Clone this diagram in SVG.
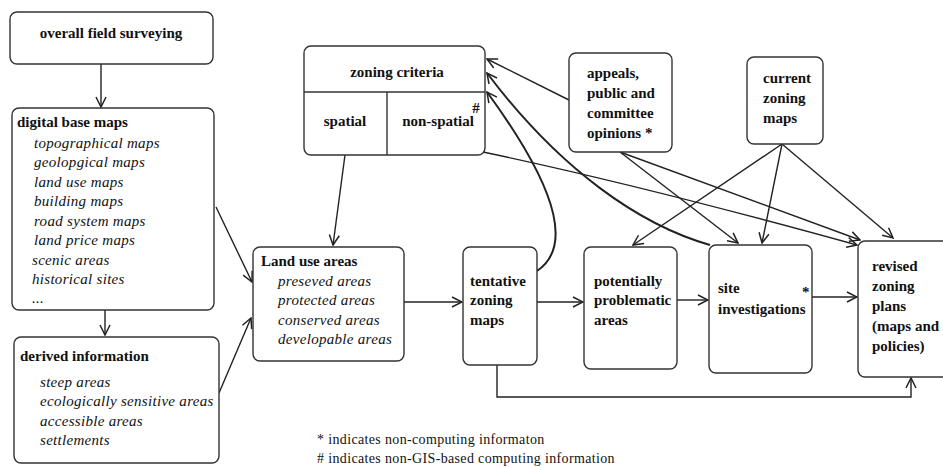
<svg xmlns="http://www.w3.org/2000/svg" width="943" height="468" viewBox="0 0 943 468">
  <defs>
    <marker id="arr" viewBox="0 0 12 12" refX="11" refY="6" markerWidth="12" markerHeight="12" markerUnits="userSpaceOnUse" orient="auto">
      <path d="M1,1 L11,6 L1,11" fill="none" stroke="#222" stroke-width="1.5"/>
    </marker>
    <style>
      .box { fill: #fff; stroke: #333; stroke-width: 1.4; }
      .div { stroke: #333; stroke-width: 1.4; }
      text { font-family: 'Liberation Serif', 'DejaVu Serif', serif; fill: #111; }
      .b { font-weight: bold; font-size: 15px; }
      .i { font-style: italic; font-size: 15px; letter-spacing: 0.3px; }
      .n { font-size: 14px; letter-spacing: 0.35px; }
      .c { fill: none; stroke: #222; stroke-width: 1.4; marker-end: url(#arr); }
      .h { fill: none; stroke: #222; stroke-width: 2; marker-end: url(#arr); }
    </style>
  </defs>
  <rect width="943" height="468" fill="#fff"/>

  <!-- connectors -->
  <g id="connectors">
    <path class="c" d="M101,64 L101,107"/>
    <path class="c" d="M105,310 L105,335"/>
    <path class="c" d="M216,207 L252,282"/>
    <path class="c" d="M219,393 L251,318"/>
    <path class="c" d="M345,155 L333,245"/>
    <path class="c" d="M404,302 L462,302"/>
    <path class="c" d="M537,302 L583,302"/>
    <path class="c" d="M677,300 L708,300"/>
    <path class="c" d="M812,297 L857,297"/>
    <path class="c" d="M497,365 L497,397 L911,397 L911,378"/>
    <path class="c" d="M569,100 L487,59"/>
    <path class="h" d="M710,245 C640,225 560,170 487,73"/>
    <path class="h" d="M537,271 C568,250 566,200 487,92"/>
    <path class="c" d="M483,152 Q640,185 857,245"/>
    <path class="c" d="M620,152 L738,243"/>
    <path class="c" d="M620,152 L860,240"/>
    <path class="c" d="M782,144 L633,245"/>
    <path class="c" d="M782,144 L762,243"/>
    <path class="c" d="M782,144 L893,238"/>
  </g>

  <g id="overall-field-surveying">
    <rect class="box" x="10" y="12" width="203" height="52" rx="7"/>
    <text class="b" x="111" y="38" text-anchor="middle">overall field surveying</text>
  </g>

  <g id="digital-base-maps">
    <rect class="box" x="12" y="108" width="202" height="202" rx="7"/>
    <text class="b" x="17" y="127">digital base maps</text>
    <text class="i" x="34" y="148">topographical maps</text>
    <text class="i" x="34" y="167">geolopgical maps</text>
    <text class="i" x="34" y="187">land use maps</text>
    <text class="i" x="34" y="206">building maps</text>
    <text class="i" x="34" y="226">road system maps</text>
    <text class="i" x="34" y="245">land price maps</text>
    <text class="i" x="32" y="265">scenic areas</text>
    <text class="i" x="32" y="284">historical sites</text>
    <text class="i" x="32" y="303">...</text>
  </g>

  <g id="derived-information">
    <rect class="box" x="14" y="337" width="205" height="126" rx="7"/>
    <text class="b" x="20" y="361">derived information</text>
    <text class="i" x="40" y="387">steep areas</text>
    <text class="i" x="40" y="406">ecologically sensitive areas</text>
    <text class="i" x="40" y="426">accessible areas</text>
    <text class="i" x="40" y="445">settlements</text>
  </g>

  <g id="zoning-criteria">
    <rect class="box" x="304" y="46" width="181" height="109" rx="7"/>
    <line class="div" x1="304" y1="92" x2="485" y2="92"/>
    <line class="div" x1="387" y1="92" x2="387" y2="155"/>
    <text class="b" x="397" y="77" text-anchor="middle">zoning criteria</text>
    <text class="b" x="345" y="126" text-anchor="middle">spatial</text>
    <text class="b" x="438" y="126" text-anchor="middle">non-spatial</text>
    <text class="b" x="476" y="113" text-anchor="middle" font-size="17">#</text>
  </g>

  <g id="appeals">
    <rect class="box" x="569" y="53" width="103" height="99" rx="7"/>
    <text class="b" x="587" y="78">appeals,</text>
    <text class="b" x="587" y="98">public and</text>
    <text class="b" x="587" y="118">committee</text>
    <text class="b" x="587" y="138">opinions *</text>
  </g>

  <g id="current-zoning-maps">
    <rect class="box" x="747" y="57" width="76" height="87" rx="7"/>
    <text class="b" x="763" y="83">current</text>
    <text class="b" x="763" y="103">zoning</text>
    <text class="b" x="763" y="123">maps</text>
  </g>

  <g id="land-use-areas">
    <rect class="box" x="253" y="247" width="151" height="114" rx="7"/>
    <text class="b" x="261" y="266">Land use areas</text>
    <text class="i" x="278" y="286">preseved areas</text>
    <text class="i" x="278" y="305">protected areas</text>
    <text class="i" x="278" y="325">conserved areas</text>
    <text class="i" x="278" y="344">developable areas</text>
  </g>

  <g id="tentative-zoning-maps">
    <rect class="box" x="463" y="247" width="74" height="118" rx="7"/>
    <text class="b" x="470" y="286">tentative</text>
    <text class="b" x="470" y="305">zoning</text>
    <text class="b" x="470" y="325">maps</text>
  </g>

  <g id="potentially-problematic-areas">
    <rect class="box" x="584" y="247" width="93" height="122" rx="7"/>
    <text class="b" x="594" y="286">potentially</text>
    <text class="b" x="594" y="305">problematic</text>
    <text class="b" x="594" y="325">areas</text>
  </g>

  <g id="site-investigations">
    <rect class="box" x="709" y="245" width="103" height="128" rx="7"/>
    <text class="b" x="718" y="293">site</text>
    <text class="b" x="718" y="314">investigations</text>
    <text class="b" x="802" y="297" font-size="12">*</text>
  </g>

  <g id="revised-zoning-plans">
    <rect class="box" x="858" y="241" width="110" height="136" rx="7"/>
    <text class="b" x="872" y="271">revised</text>
    <text class="b" x="872" y="291">zoning</text>
    <text class="b" x="872" y="311">plans</text>
    <text class="b" x="872" y="331">(maps and</text>
    <text class="b" x="872" y="351">policies)</text>
  </g>

  <g id="legend">
    <text class="n" x="317" y="444">* indicates non-computing informaton</text>
    <text class="n" x="317" y="463"># indicates non-GIS-based computing information</text>
  </g>
</svg>
